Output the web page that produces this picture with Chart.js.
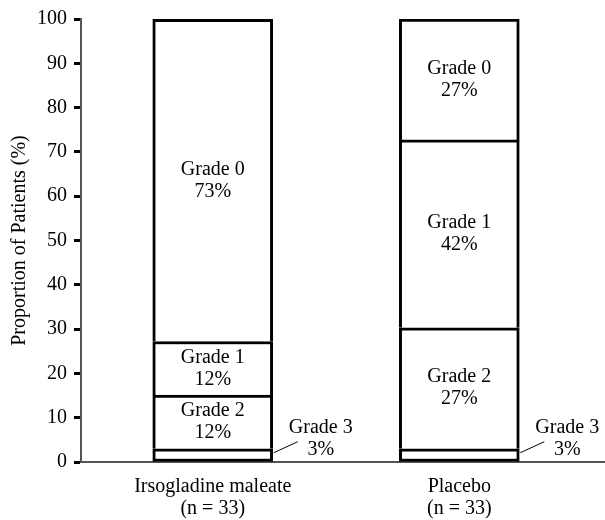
<!DOCTYPE html>
<html>
<head>
<meta charset="utf-8">
<script src="https://cdn.jsdelivr.net/npm/chart.js@4"></script>
<style>
  html, body { margin: 0; padding: 0; background: #fff; }
  #wrap { width: 605px; height: 520px; }
</style>
</head>
<body>
<div id="wrap"><canvas id="gradeChart"></canvas></div>
<script>
// данные с рисунка
const groups = ["Irsogladine maleate", "Placebo"];
const groupSizes = ["(n = 33)", "(n = 33)"];
const groupPos = [1, 2];
const grades = ["Grade 3", "Grade 2", "Grade 1", "Grade 0"];
const grade3 = [3.0, 3.0];
const grade2 = [12.1, 27.3];
const grade1 = [12.1, 42.4];
const grade0 = [72.7, 27.3];
const yTicks = [0, 10, 20, 30, 40, 50, 60, 70, 80, 90, 100];

const font = "Liberation Serif, Times New Roman, serif";
const series = [grade3, grade2, grade1, grade0];

const datasets = series.map(function (vals, i) {
  return {
    label: grades[i],
    data: vals.map(function (v, j) { return { x: groupPos[j], y: v }; }),
    backgroundColor: "#ffffff",
    borderColor: "#000000",
    borderWidth: { top: 3, left: 3, right: 3, bottom: i === 0 ? 3 : 0 },
    borderSkipped: false,
    barThickness: 120
  };
});

// подписи внутри столбцов и выноски для Grade 3
const labelPlugin = {
  id: "segLabels",
  afterDatasetsDraw: function (chart) {
    const ctx = chart.ctx;
    ctx.save();
    ctx.fillStyle = "#000";
    ctx.font = "20px " + font;
    ctx.textAlign = "center";
    ctx.textBaseline = "middle";
    chart.data.datasets.forEach(function (ds, i) {
      const meta = chart.getDatasetMeta(i);
      meta.data.forEach(function (bar, j) {
        const pct = Math.round(ds.data[j].y) + "%";
        if (i === 0) {
          const right = bar.x + bar.width / 2;
          const cx = right + 48;
          ctx.fillText(ds.label, cx, bar.y - 21);
          ctx.fillText(pct, cx, bar.y + 1);
          ctx.beginPath();
          ctx.lineWidth = 1;
          ctx.strokeStyle = "#000";
          ctx.moveTo(right + 1, bar.y + 4);
          ctx.lineTo(right + 25, bar.y - 7);
          ctx.stroke();
        } else {
          const mid = (bar.y + bar.base) / 2;
          ctx.fillText(ds.label, bar.x, mid - 11);
          ctx.fillText(pct, bar.x, mid + 11);
        }
      });
    });
    ctx.restore();
  }
};

const chart = new Chart(document.getElementById("gradeChart"), {
  type: "bar",
  data: { datasets: datasets },
  plugins: [labelPlugin],
  options: {
    responsive: true,
    maintainAspectRatio: false,
    animation: false,
    layout: { padding: { top: 16, right: 0, bottom: 0, left: 10 } },
    plugins: { legend: { display: false }, tooltip: { enabled: false } },
    scales: {
      x: {
        type: "linear",
        stacked: true,
        offset: false,
        min: 0.4656,
        max: 2.591,
        afterBuildTicks: function (axis) {
          axis.ticks = groupPos.map(function (v) { return { value: v }; });
        },
        afterFit: function (axis) {
          axis.height = 58;
        },
        ticks: {
          color: "#000",
          font: { family: font, size: 20, lineHeight: 1.1 },
          padding: 6,
          maxRotation: 0,
          autoSkip: false,
          callback: function (v) {
            const k = groupPos.indexOf(v);
            return k < 0 ? "" : [groups[k], groupSizes[k]];
          }
        },
        grid: { display: false },
        border: { display: true, color: "#555", width: 2 }
      },
      y: {
        stacked: true,
        min: 0,
        max: 100,
        afterBuildTicks: function (axis) {
          axis.ticks = yTicks.map(function (v) { return { value: v }; });
        },
        ticks: { color: "#000", font: { family: font, size: 20 }, padding: 7 },
        grid: {
          drawOnChartArea: false,
          drawTicks: true,
          tickLength: 7,
          tickWidth: 3,
          tickColor: "#000"
        },
        border: { display: true, color: "#555", width: 2 },
        title: {
          display: true,
          text: "Proportion of Patients (%)",
          color: "#000",
          font: { family: font, size: 20, lineHeight: 1 },
          padding: { top: 0, bottom: 0 }
        }
      }
    }
  }
});
</script>
</body>
</html>
